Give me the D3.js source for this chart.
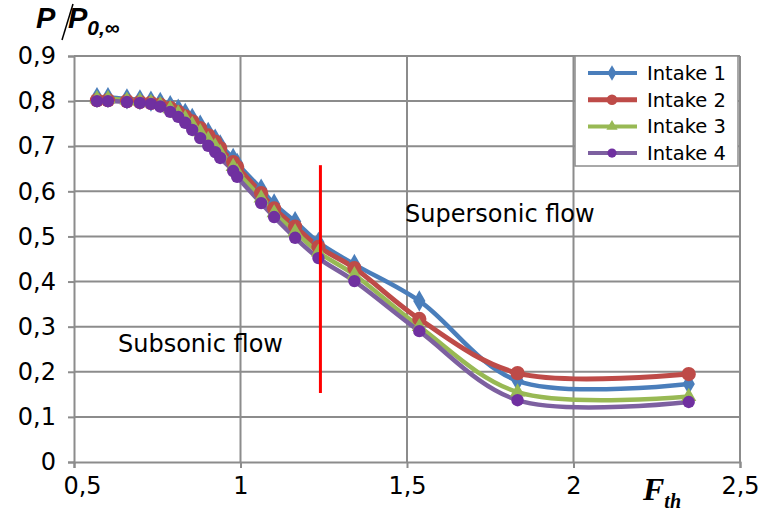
<!DOCTYPE html>
<html><head><meta charset="utf-8">
<script src="https://cdn.jsdelivr.net/npm/d3@7"></script>
<style>body{margin:0;background:#fff}svg{display:block}</style>
</head><body><svg id="c" width="761" height="515"></svg>
<script>
const fth = [0.569,0.602,0.659,0.698,0.731,0.759,0.789,0.813,0.834,0.855,0.879,0.903,0.924,0.939,0.978,0.99,1.062,1.101,1.164,1.234,1.342,1.537,1.832,2.346];
const intake1 = [0.808,0.808,0.805,0.803,0.800,0.797,0.790,0.782,0.773,0.762,0.747,0.731,0.716,0.703,0.673,0.662,0.605,0.572,0.533,0.487,0.438,0.357,0.180,0.173];
const intake2 = [0.802,0.802,0.800,0.798,0.796,0.792,0.785,0.776,0.766,0.755,0.740,0.724,0.710,0.696,0.665,0.654,0.596,0.562,0.522,0.477,0.430,0.317,0.197,0.195];
const intake3 = [0.805,0.805,0.802,0.800,0.797,0.792,0.783,0.773,0.762,0.748,0.732,0.715,0.700,0.686,0.655,0.643,0.585,0.552,0.510,0.465,0.415,0.300,0.155,0.145];
const intake4 = [0.800,0.800,0.798,0.796,0.794,0.788,0.776,0.765,0.752,0.736,0.718,0.701,0.687,0.674,0.645,0.632,0.574,0.543,0.497,0.452,0.401,0.290,0.137,0.133];
const seriesNames = ["Intake 1","Intake 2","Intake 3","Intake 4"];
const seriesColors = ["#4a7ebb","#be4b48","#98b954","#7d60a0"];
const markerColors = ["#4a7ebb","#be4b48","#98b954","#7030a0"];
const xTicks = [0.5,1,1.5,2,2.5];
const yTicks = [0,0.1,0.2,0.3,0.4,0.5,0.6,0.7,0.8,0.9];
const boundaryX = 1.24, boundaryY = [0.153,0.658];

const svg = d3.select("#c");
const x = d3.scaleLinear().domain([0.5,2.5]).range([74,740]);
const y = d3.scaleLinear().domain([0,0.9]).range([462,56]);
const fmt = d => String(d).replace(".", ",");
const font = "Tahoma, 'DejaVu Sans', sans-serif";

// gridlines
svg.append("g").selectAll("line").data(yTicks.filter(d=>d>0)).join("line")
  .attr("x1",74).attr("x2",740).attr("y1",d=>y(d)).attr("y2",d=>y(d))
  .attr("stroke","#8c8c8c").attr("stroke-width",2);
svg.append("g").selectAll("line").data(xTicks.filter(d=>d>0.5)).join("line")
  .attr("y1",56).attr("y2",462).attr("x1",d=>x(d)).attr("x2",d=>x(d))
  .attr("stroke","#8c8c8c").attr("stroke-width",2);

// axes
const xa = svg.append("g").attr("transform","translate(0,462)")
  .call(d3.axisBottom(x).tickValues(xTicks).tickFormat(fmt).tickSize(6).tickPadding(9));
const ya = svg.append("g").attr("transform","translate(74,0)")
  .call(d3.axisLeft(y).tickValues(yTicks).tickFormat(fmt).tickSize(6).tickPadding(12));
[xa,ya].forEach(a=>{
  a.select(".domain").attr("stroke","#8c8c8c").attr("stroke-width",2);
  a.selectAll(".tick line").attr("stroke","#8c8c8c").attr("stroke-width",2);
  a.selectAll("text").attr("font-family",font).attr("font-size",24).attr("fill","#000");
});
xa.selectAll(".tick text").filter(d=>d===0.5).attr("dx",8);

// series
const data = [intake1,intake2,intake3,intake4];
const line = d3.line().x(d=>x(d[0])).y(d=>y(d[1])).curve(d3.curveCatmullRom.alpha(0.5));
data.forEach((vals,i)=>{
  const pts = fth.map((f,j)=>[f,vals[j]]);
  svg.append("path").attr("d",line(pts)).attr("fill","none")
    .attr("stroke",seriesColors[i]).attr("stroke-width",i===1?5:4.5);
});
const sym = [d3.symbolDiamond, d3.symbolCircle, d3.symbolTriangle, d3.symbolCircle];
const symSize = [130, 160, 100, 120];
data.forEach((vals,i)=>{
  svg.append("g").selectAll("path").data(fth.map((f,j)=>[f,vals[j]])).join("path")
    .attr("transform",d=>`translate(${x(d[0])},${y(d[1])})`)
    .attr("d",d3.symbol(sym[i],symSize[i])).attr("fill",markerColors[i]);
});

// boundary line
svg.append("line").attr("x1",x(boundaryX)).attr("x2",x(boundaryX))
  .attr("y1",y(boundaryY[0])).attr("y2",y(boundaryY[1]))
  .attr("stroke","#ff0000").attr("stroke-width",3);

// annotations
svg.append("text").attr("x",405).attr("y",222).text("Supersonic flow")
  .attr("font-family",font).attr("font-size",24);
svg.append("text").attr("x",118).attr("y",352).text("Subsonic flow")
  .attr("font-family",font).attr("font-size",24);

// legend
const lg = svg.append("g");
lg.append("rect").attr("x",575).attr("y",56).attr("width",163).attr("height",110)
  .attr("fill","#fff").attr("stroke","#8c8c8c").attr("stroke-width",1.5);
seriesNames.forEach((n,i)=>{
  const yy = 73 + i*26.7;
  lg.append("line").attr("x1",588).attr("x2",637).attr("y1",yy).attr("y2",yy)
    .attr("stroke",seriesColors[i]).attr("stroke-width",i===1?5:4);
  lg.append("path").attr("transform",`translate(612,${yy})`)
    .attr("d",d3.symbol(sym[i],symSize[i]*0.55)).attr("fill",markerColors[i]);
  lg.append("text").attr("x",647).attr("y",yy+7).text(n)
    .attr("font-family",font).attr("font-size",19.5);
});

// axis titles
const tf = "Arial, 'Liberation Sans', sans-serif";
svg.append("text").attr("x",36).attr("y",28).attr("font-family",tf)
  .attr("font-weight","bold").attr("font-style","italic").attr("font-size",29).text("P");
svg.append("line").attr("x1",62).attr("y1",40).attr("x2",73).attr("y2",4).attr("stroke","#000").attr("stroke-width",1.5);
const yt2 = svg.append("text").attr("x",68).attr("y",28).attr("font-family",tf)
  .attr("font-weight","bold").attr("font-style","italic").attr("font-size",29);
yt2.append("tspan").text("P");
yt2.append("tspan").attr("dy",7).attr("font-size",21).text("0,∞");

const xt = svg.append("text").attr("x",643).attr("y",500)
  .attr("font-family","'Liberation Serif', 'Times New Roman', serif").attr("font-weight","bold").attr("font-style","italic").attr("font-size",32);
xt.append("tspan").text("F");
xt.append("tspan").attr("dy",8).attr("font-size",20).text("th");
</script></body></html>
